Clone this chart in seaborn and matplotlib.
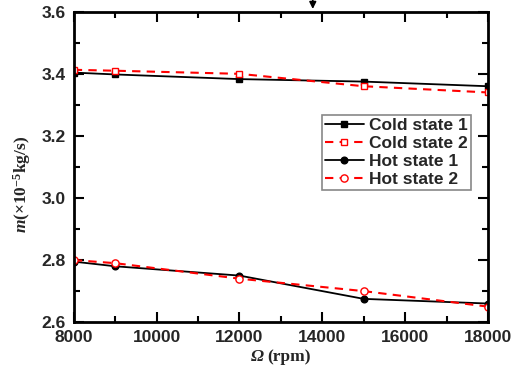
import matplotlib
matplotlib.use("Agg")
import matplotlib.pyplot as plt
from matplotlib.offsetbox import TextArea, HPacker, AnchoredOffsetbox
import seaborn as sns
import pandas as pd

speed = [8000, 9000, 12000, 15000, 18000]
cold_state_1 = [3.404, 3.398, 3.383, 3.375, 3.360]
cold_state_2 = [3.413, 3.410, 3.400, 3.360, 3.340]
hot_state_1 = [2.795, 2.780, 2.750, 2.675, 2.660]
hot_state_2 = [2.800, 2.790, 2.740, 2.700, 2.650]

x_ticks = [8000, 10000, 12000, 14000, 16000, 18000]
y_ticks = [2.6, 2.8, 3.0, 3.2, 3.4, 3.6]

sns.set_style("ticks")
plt.rcParams['font.family'] = ['Liberation Sans', 'DejaVu Sans']
plt.rcParams['mathtext.fontset'] = 'custom'
plt.rcParams['mathtext.it'] = 'Liberation Serif:italic:bold'
plt.rcParams['mathtext.rm'] = 'Liberation Serif:bold'
plt.rcParams['mathtext.bf'] = 'Liberation Serif:bold'

fig = plt.figure(figsize=(5.27, 3.79), dpi=100)
ax = fig.add_axes([0.140, 0.150, 0.786, 0.819])

series = [
    ("Cold state 1", cold_state_1, dict(color="black", linestyle="-", marker="s",
                                        markerfacecolor="black", markeredgecolor="black",
                                        linewidth=1.3, markersize=4.2)),
    ("Cold state 2", cold_state_2, dict(color="red", linestyle=(0, (4, 3)), marker="s",
                                        markerfacecolor="white", markeredgecolor="red",
                                        linewidth=1.5, markersize=4.8)),
    ("Hot state 1", hot_state_1, dict(color="black", linestyle="-", marker="o",
                                      markerfacecolor="black", markeredgecolor="black",
                                      linewidth=1.3, markersize=4.8)),
    ("Hot state 2", hot_state_2, dict(color="red", linestyle=(0, (4, 3)), marker="o",
                                      markerfacecolor="white", markeredgecolor="red",
                                      linewidth=1.5, markersize=5.2)),
]

for name, vals, kw in series:
    df = pd.DataFrame({"x": speed, "y": vals})
    sns.lineplot(data=df, x="x", y="y", ax=ax, label=name,
                 markeredgewidth=1.0, **kw)

ax.set_xlim(8000, 18000)
ax.set_ylim(2.6, 3.6)
ax.set_xticks(x_ticks)
ax.set_yticks(y_ticks)
ax.set_xticks(range(9000, 18000, 2000), minor=True)
ax.set_yticks([2.7, 2.9, 3.1, 3.3, 3.5], minor=True)
ax.set_xticklabels([str(t) for t in x_ticks], fontsize=12.5, fontweight="bold")
ax.set_yticklabels([f"{t:.1f}" for t in y_ticks], fontsize=12.5, fontweight="bold")
ax.tick_params(which="both", direction="in", top=True, right=True, width=1.5, color="black")
ax.tick_params(which="major", length=7, pad=6)
ax.tick_params(which="minor", length=4)
for sp in ax.spines.values():
    sp.set_linewidth(2.0)
    sp.set_color("black")

ax.set_xlabel("")
serif = ["Liberation Serif", "DejaVu Serif"]
xl_parts = HPacker(children=[
    TextArea("Ω", textprops=dict(family=serif, style="italic", weight="bold", size=12.5)),
    TextArea("(rpm)", textprops=dict(family=serif, weight="bold", size=12.5)),
], align="baseline", pad=0, sep=3)
xl_box = AnchoredOffsetbox(loc="upper center", child=xl_parts, pad=0, frameon=False,
                           bbox_to_anchor=(0.5, -0.085), bbox_transform=ax.transAxes,
                           borderpad=0)
ax.add_artist(xl_box)

ax.set_ylabel(r"$m$(×10$^{-5}$kg/s)", fontsize=12.5, fontweight="bold", family=serif)
ax.yaxis.set_label_coords(-0.098, 0.445)

leg = ax.legend(loc="upper right", bbox_to_anchor=(0.959, 0.668), borderaxespad=0,
                frameon=True, fancybox=False, edgecolor="#888888", framealpha=1,
                prop={"family": "Liberation Sans", "weight": "bold", "size": 12.5},
                handlelength=2.2, handletextpad=0.3, labelspacing=0.15,
                borderpad=0.2)
leg.get_frame().set_linewidth(1.2)

ax.annotate("", xy=(13770, 3.6), xytext=(13770, 3.66),
            arrowprops=dict(arrowstyle="-|>", color="black", lw=1.2, mutation_scale=10),
            annotation_clip=False)

fig.savefig("out.png", dpi=100)
